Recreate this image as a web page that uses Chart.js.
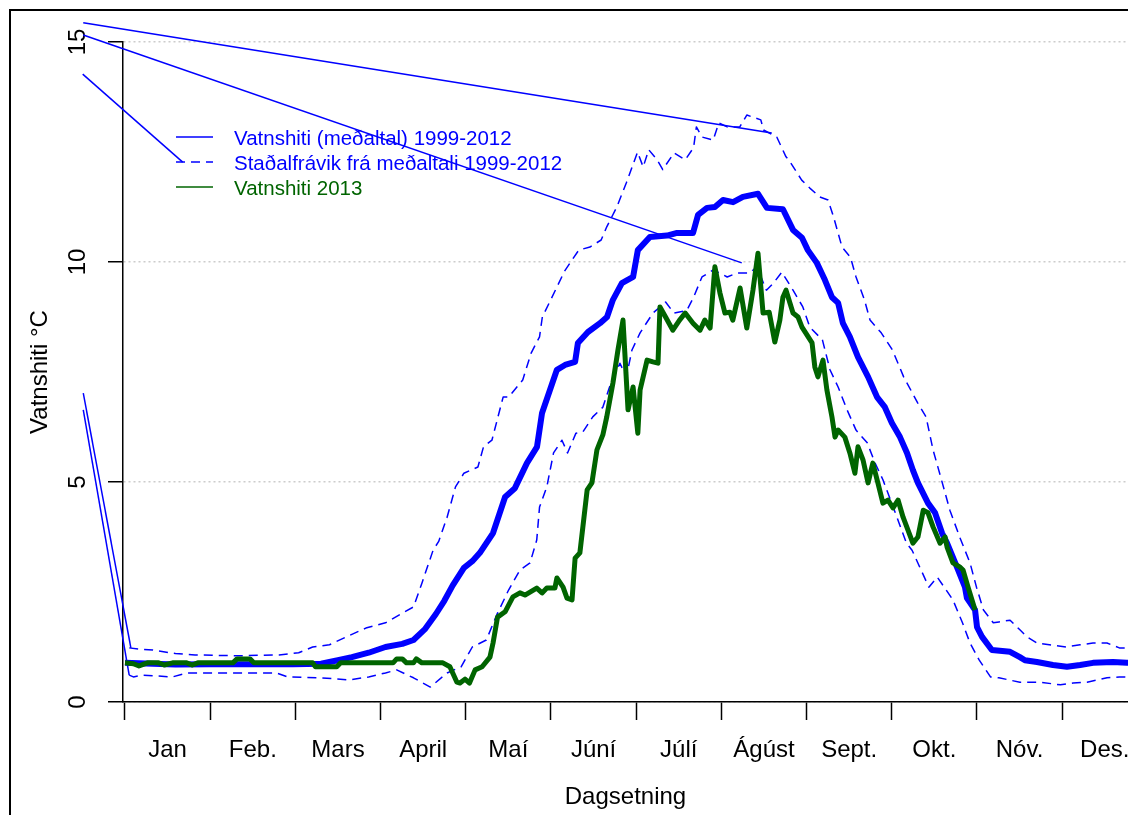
<!DOCTYPE html>
<html lang="is">
<head>
<meta charset="utf-8">
<title>Vatnshiti</title>
<script src="https://cdn.jsdelivr.net/npm/chart.js@4.4.1/dist/chart.umd.min.js"></script>
<style>
  html, body { margin: 0; padding: 0; overflow: hidden; background: #fff; }
  #wrap { position: relative; width: 1128px; height: 815px; }
  #frame { position: absolute; left: 9px; top: 9px; width: 1200px; height: 900px; border: 2px solid #000; pointer-events: none; }
</style>
</head>
<body>
<div id="wrap">
  <canvas id="chart" width="1128" height="815"></canvas>
  <div id="frame"></div>
</div>
<script>
// Month labels, x axis in day of year
const monthLabels = ['Jan', 'Feb.', 'Mars', 'April', 'Maí', 'Júní', 'Júlí', 'Ágúst', 'Sept.', 'Okt.', 'Nóv.', 'Des.'];
const monthStarts = monthLabels.map((m, i) => i * 365 / 12);
const yTicks = [0, 5, 10, 15];

// Mean water temperature 1999-2012 [day, °C]
const meanTemp = [
  [0, 0.89], [10, 0.87], [18, 0.85], [30, 0.86], [45, 0.86], [60, 0.86], [70, 0.87], [76, 0.95], [81, 1.02],
  [87, 1.12], [93, 1.25], [99, 1.32], [103, 1.41], [107, 1.65], [111, 2.0], [114, 2.3], [117, 2.65], [121, 3.05],
  [124, 3.2], [126.7, 3.39], [131.4, 3.84], [135.7, 4.66], [139.2, 4.86], [143.5, 5.43], [147.1, 5.8], [148.9, 6.57],
  [154.2, 7.55], [157.1, 7.66], [160.7, 7.73], [161.7, 8.16], [165.3, 8.41], [169.6, 8.61], [172.1, 8.75], [174.2, 9.14],
  [177.4, 9.52], [181.4, 9.66], [183.1, 10.27], [187.4, 10.57], [193.5, 10.6], [197.1, 10.66], [202.8, 10.66],
  [204.6, 11.07], [207.8, 11.23], [210.6, 11.25], [213.5, 11.41], [217.1, 11.36], [220.6, 11.48], [226, 11.55],
  [229.2, 11.23], [234.9, 11.2], [238.5, 10.73], [241.7, 10.55], [243.8, 10.27], [247, 9.98], [249.9, 9.59],
  [252.4, 9.2], [254.6, 9.07], [256.3, 8.61], [258.8, 8.3], [261.7, 7.84], [265.3, 7.39], [268.5, 6.93], [271.3, 6.7],
  [273.8, 6.34], [276.7, 6.02], [279.2, 5.66], [281.3, 5.27], [283.1, 4.98], [286.7, 4.52], [289.2, 4.3], [291.7, 3.84],
  [293.5, 3.61], [297, 3.07], [299.9, 2.61], [300.6, 2.36], [303.5, 2.09], [304.2, 1.7], [306, 1.48], [309.5, 1.18],
  [316, 1.14], [319.5, 1.02], [321.3, 0.95], [325.6, 0.91], [331.3, 0.84], [336.3, 0.8], [341, 0.84], [345.6, 0.89],
  [352.7, 0.91], [357.7, 0.89], [365, 0.89]
];

// Mean + standard deviation
const upperTemp = [
  [1.5, 1.23], [5, 1.2], [10, 1.18], [18, 1.1], [25, 1.07], [40, 1.05], [55, 1.07], [62, 1.12], [67, 1.25], [73, 1.3],
  [79, 1.48], [86, 1.68], [93, 1.8], [99, 2.02], [103, 2.16], [106, 2.7], [110, 3.45], [112, 3.65], [115, 4.2],
  [118, 4.89], [121, 5.2], [126, 5.34], [128, 5.8], [131, 5.95], [135, 6.93], [137, 6.93], [142, 7.32], [145, 7.93],
  [148, 8.3], [149, 8.75], [152, 9.14], [157, 9.8], [162, 10.27], [166, 10.34], [170, 10.5], [172, 10.8],
  [175.6, 11.25], [179, 11.8], [183, 12.5], [185, 12.16], [187, 12.55], [190, 12.32], [192, 12.1], [196, 12.48],
  [200, 12.32], [203, 12.6], [204, 13.07], [206, 12.84], [210, 12.77], [212, 13.16], [215, 13.07], [219.5, 13.07],
  [222, 13.34], [227, 13.23], [228, 13.0], [232.7, 12.84], [236, 12.39], [237, 12.32], [241.6, 11.86], [244.5, 11.68],
  [248, 11.48], [251, 11.41], [253, 11.02], [256, 10.34], [259, 10.11], [261, 9.66], [264, 9.14], [266, 8.68],
  [270, 8.39], [274, 8.0], [278, 7.39], [283, 6.8], [286, 6.48], [288.5, 5.73], [291.5, 5.05], [294.5, 4.36],
  [298, 3.75], [301.7, 3.16], [304, 2.61], [306.5, 2.09], [310, 1.8], [312, 1.82], [316, 1.86], [319.5, 1.64],
  [322, 1.48], [325.6, 1.34], [330, 1.3], [336, 1.25], [341, 1.3], [345.6, 1.34], [350.6, 1.34], [355, 1.23], [365, 1.23]
];

// Mean - standard deviation
const lowerTemp = [
  [1.5, 0.61], [3, 0.57], [6, 0.61], [17, 0.57], [22, 0.66], [46, 0.66], [54, 0.66], [58, 0.57], [70, 0.55], [80, 0.5],
  [87, 0.57], [93, 0.66], [97, 0.73], [103, 0.55], [109, 0.34], [115, 0.66], [120, 0.8], [124, 1.25], [129, 1.41],
  [133, 2.02], [137, 2.55], [141, 3.0], [144.6, 3.16], [147, 3.68], [148, 4.43], [150.6, 4.89], [153, 5.66],
  [156, 5.95], [158, 5.66], [161, 6.11], [163.5, 6.14], [167, 6.48], [170.6, 6.7], [173, 7.16], [176.7, 7.7],
  [179, 7.39], [181, 8.0], [183.9, 8.39], [188.5, 8.84], [193, 9.09], [196, 8.84], [200.6, 8.9], [203, 9.2],
  [206, 9.66], [210, 9.82], [215, 9.66], [218.5, 9.75], [223, 9.75], [225.6, 9.89], [229, 9.36], [231.5, 9.52],
  [234.5, 9.77], [238.5, 9.36], [242, 8.98], [244.5, 8.52], [249, 8.23], [251.7, 7.55], [254.6, 7.16], [257.8, 6.64],
  [261, 6.18], [265, 5.89], [267.8, 5.43], [270.6, 5.05], [275.6, 4.2], [279, 3.61], [281, 3.45], [287, 2.61],
  [290, 2.84], [295.6, 2.32], [299, 1.8], [301.7, 1.34], [305, 0.95], [309, 0.57], [312, 0.55], [319.5, 0.45],
  [326.7, 0.45], [334, 0.39], [338.5, 0.43], [343.5, 0.45], [350.6, 0.55], [355, 0.57], [365, 0.55]
];

// Water temperature 2013
const temp2013 = [
  [0, 0.89], [3, 0.87], [5, 0.82], [8, 0.89], [12, 0.89], [14, 0.84], [17, 0.89], [22, 0.89], [24, 0.84], [26, 0.89],
  [38.5, 0.89], [40, 0.98], [44.6, 0.98], [46, 0.89], [67, 0.89], [68, 0.8], [75.6, 0.8], [77, 0.89], [95.7, 0.89],
  [97, 0.98], [99, 0.98], [100.5, 0.89], [103, 0.89], [104, 0.98], [106, 0.89], [113.5, 0.89], [116, 0.8],
  [118.5, 0.45], [119.6, 0.43], [121.4, 0.52], [123, 0.43], [125, 0.73], [127.5, 0.8], [130.3, 1.02], [131.4, 1.34],
  [133, 1.93], [135.7, 2.05], [138.5, 2.39], [141, 2.48], [142.8, 2.43], [147, 2.59], [148.9, 2.48], [150.6, 2.59],
  [153.5, 2.59], [154.2, 2.82], [156.4, 2.61], [157.8, 2.36], [159.6, 2.32], [160.7, 3.27], [162.4, 3.39], [165, 4.82],
  [166.7, 4.98], [168.5, 5.73], [170.6, 6.07], [172, 6.48], [174.2, 7.25], [176, 8.0], [177.8, 8.68], [179.6, 6.64],
  [181.4, 7.16], [183.1, 6.11], [183.9, 7.09], [186.4, 7.77], [188.5, 7.73], [190.3, 7.7], [191, 8.98], [193, 8.75],
  [195.6, 8.45], [198, 8.68], [200, 8.84], [202.8, 8.61], [205.3, 8.45], [207, 8.68], [208.9, 8.5], [210.6, 9.89],
  [212.4, 9.3], [214.2, 8.84], [216, 8.86], [217, 8.68], [219.6, 9.41], [222, 8.5], [224.2, 9.36], [226, 10.2],
  [227.8, 8.84], [230, 8.86], [232, 8.18], [233.8, 8.68], [234.9, 9.2], [236, 9.36], [238.5, 8.84], [240.3, 8.75],
  [241.7, 8.52], [245.3, 8.16], [246.3, 7.61], [247.4, 7.39], [249.2, 7.77], [250.6, 7.09], [252.4, 6.48],
  [253.5, 6.02], [254.6, 6.18], [257, 6.02], [258.8, 5.66], [260.6, 5.2], [261.7, 5.8], [263.5, 5.5], [265.3, 4.98],
  [267, 5.43], [268.8, 4.98], [270.6, 4.52], [272.4, 4.59], [274.2, 4.41], [276, 4.59], [277.8, 4.2], [281.3, 3.61],
  [283.1, 3.75], [285, 4.36], [286.7, 4.3], [288.5, 3.98], [291, 3.61], [292.8, 3.75], [293.5, 3.52], [295.6, 3.16],
  [298, 3.07], [299.2, 3.0], [301, 2.61], [303.5, 2.09]
];

// Stray straight segments that the original plot shows
const strayLines = [
  [[-14.9, 15.44], [230.9, 12.93]],
  [[-14.9, 15.16], [220.2, 9.98]],
  [[-15.1, 14.27], [20.6, 12.27]],
  [[-14.9, 7.02], [2.1, 1.23]],
  [[-14.9, 6.64], [1.5, 0.61]]
];

const FONT = "'Liberation Sans', Arial, sans-serif";
const BLUE = '#0000ff';
const GREEN = '#006400';
const DASH = [9, 6];

Chart.defaults.font.family = FONT;
Chart.defaults.color = '#000';

// Legend in the top-left of the plot, R style
const legendPlugin = {
  id: 'rLegend',
  afterDatasetsDraw(chart) {
    const { ctx, chartArea } = chart;
    const x0 = chartArea.left + 53;
    chart.data.datasets.forEach(ds => {
      if (ds.legendRow == null) return;
      const y = chartArea.top + 95 + ds.legendRow * 25;
      ctx.save();
      ctx.strokeStyle = ds.borderColor;
      ctx.lineWidth = 1.5;
      ctx.setLineDash(ds.borderDash || []);
      ctx.beginPath();
      ctx.moveTo(x0, y);
      ctx.lineTo(x0 + 37, y);
      ctx.stroke();
      ctx.fillStyle = ds.borderColor;
      ctx.font = '20.5px ' + FONT;
      ctx.textBaseline = 'middle';
      ctx.fillText(ds.label, x0 + 58, y + 2);
      ctx.restore();
    });
  }
};

const baseLine = { pointRadius: 0, tension: 0, fill: false, borderJoinStyle: 'round' };

const datasets = [
  { ...baseLine, label: 'Vatnshiti 2013', data: temp2013, borderColor: GREEN, borderWidth: 5, legendRow: 2 },
  { ...baseLine, label: 'Vatnshiti (meðaltal) 1999-2012', data: meanTemp, borderColor: BLUE, borderWidth: 6, legendRow: 0 },
  { ...baseLine, label: 'Staðalfrávik frá meðaltali 1999-2012', data: upperTemp, borderColor: BLUE, borderWidth: 1.5, borderDash: DASH, legendRow: 1 },
  { ...baseLine, label: 'Staðalfrávik frá meðaltali 1999-2012', data: lowerTemp, borderColor: BLUE, borderWidth: 1.5, borderDash: DASH }
];
strayLines.forEach(seg => {
  datasets.push({ ...baseLine, label: '', data: seg, borderColor: BLUE, borderWidth: 1.5, clip: false });
});

new Chart(document.getElementById('chart'), {
  type: 'line',
  data: { datasets },
  plugins: [legendPlugin],
  options: {
    responsive: false,
    animation: false,
    devicePixelRatio: 1,
    layout: { padding: { top: 42, left: 0, right: 0, bottom: 0 } },
    plugins: { legend: { display: false }, tooltip: { enabled: false } },
    scales: {
      x: {
        type: 'linear',
        min: -0.714,
        max: 358.1,
        afterBuildTicks: s => { s.ticks = monthStarts.map(v => ({ value: v })); },
        afterFit: s => { s.height = 113; },
        grid: { drawOnChartArea: false, drawTicks: true, tickLength: 18, tickColor: '#000', tickWidth: 1.5 },
        border: { display: true, color: '#000', width: 1.5 },
        ticks: {
          autoSkip: false, maxRotation: 0, minRotation: 0, labelOffset: 42.6, padding: 16,
          font: { size: 24 },
          callback: (v, i) => monthLabels[i]
        },
        title: { display: true, text: 'Dagsetning', font: { size: 24 }, padding: { top: 0, bottom: 3 } }
      },
      y: {
        type: 'linear',
        min: 0,
        max: 15,
        afterBuildTicks: s => { s.ticks = yTicks.map(v => ({ value: v })); },
        afterFit: s => { s.width = 123; },
        grid: { color: '#cccccc', lineWidth: 1.5, tickLength: 15, tickColor: '#000', tickWidth: 1.5 },
        border: { display: true, color: '#000', width: 1.5, dash: [2, 3] },
        ticks: { minRotation: 90, maxRotation: 90, crossAlign: 'center', padding: 16, font: { size: 24 } },
        title: { display: true, text: 'Vatnshiti °C', font: { size: 24 }, padding: { top: 26, bottom: 0 } }
      }
    }
  }
});
</script>
</body>
</html>
